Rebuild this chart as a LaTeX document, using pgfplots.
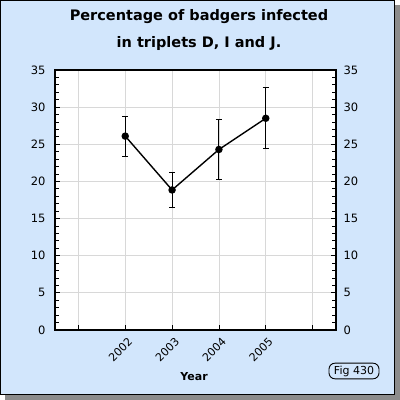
\documentclass[border=0pt]{standalone}
\usepackage{pgfplots}
\pgfplotsset{compat=1.18}
\usepackage{fontspec}
\setmainfont{DejaVu Sans}
\definecolor{bgblue}{HTML}{D2E6FC}
\definecolor{gridgray}{HTML}{D8D8D8}
\begin{document}
\begin{tikzpicture}
\useasboundingbox (0pt,0pt) rectangle (400pt,400pt);
\fill[black!45] (5pt,0pt) rectangle (400pt,395pt);
\fill[bgblue] (0pt,5pt) rectangle (395pt,400pt);
\draw[black,line width=1pt] (0.5pt,5.5pt) rectangle (394.5pt,399.5pt);
\node[font=\fontsize{14.5}{16}\selectfont\bfseries] at (199pt,383pt) {Percentage of badgers infected};
\node[font=\fontsize{14.5}{16}\selectfont\bfseries] at (199pt,357pt) {in triplets D, I and J.};
\begin{axis}[
  at={(55pt,70pt)}, anchor=south west,
  scale only axis, width=281pt, height=260pt,
  xmin=2000.5, xmax=2006.5, ymin=0, ymax=35,
  axis background/.style={fill=white},
  axis line style={line width=1.8pt},
  xtick={2001,2002,2003,2004,2005,2006},
  xticklabels={,2002,2003,2004,2005,},
  x tick label style={rotate=45, anchor=north east, font=\fontsize{11}{12}\selectfont, inner sep=1pt, xshift=-2pt, yshift=-5pt},
  ytick={0,5,...,35},
  minor ytick={0,1,...,35},
  y tick label style={font=\fontsize{11.5}{12}\selectfont},
  yticklabel pos=left,
  tick align=inside,
  major tick length=5pt, minor tick length=4pt,
  tick style={black, line width=0.8pt},
  xtick pos=bottom,
  ytick pos=both,
  grid=major,
  major grid style={gridgray, line width=0.8pt},
  xlabel={\bfseries Year},
  xlabel style={font=\fontsize{11}{12}\selectfont, at={(axis description cs:0.495,-0.181)}, anchor=center},
  scaled ticks=false,
  /pgf/number format/assume math mode=true,
  xticklabel style={/pgf/number format/1000 sep={}},
  yticklabel style={xshift=-6pt},
  clip=false,
]
\addplot[black, line width=1.4pt, mark=*, mark size=3pt,
  error bars/.cd, y dir=both, y explicit,
  error bar style={line width=0.9pt},
  error mark options={rotate=90, mark size=3pt, line width=0.9pt}]
  coordinates {
  (2002,26.1) +- (0,2.7)
  (2003,18.85) +- (0,2.4)
  (2004,24.3) +- (0,4.1)
  (2005,28.5) +- (0,4.1)
};
\end{axis}
\begin{axis}[
  at={(55pt,70pt)}, anchor=south west,
  scale only axis, width=281pt, height=260pt,
  xmin=2000.5, xmax=2006.5, ymin=0, ymax=35,
  hide x axis, axis y line*=right,
  axis line style={draw=none},
  ytick={0,5,...,35},
  major tick length=0pt,
  y tick label style={font=\fontsize{11.5}{12}\selectfont, xshift=4pt},
  /pgf/number format/assume math mode=true,
]
\addplot[draw=none] coordinates {(2001,0)};
\end{axis}
\node[draw, rounded corners=6pt, line width=0.9pt, fill=bgblue, inner xsep=5pt, inner ysep=2.5pt, font=\fontsize{11}{12}\selectfont] at (354pt,29pt) {Fig 430};
\end{tikzpicture}
\end{document}
